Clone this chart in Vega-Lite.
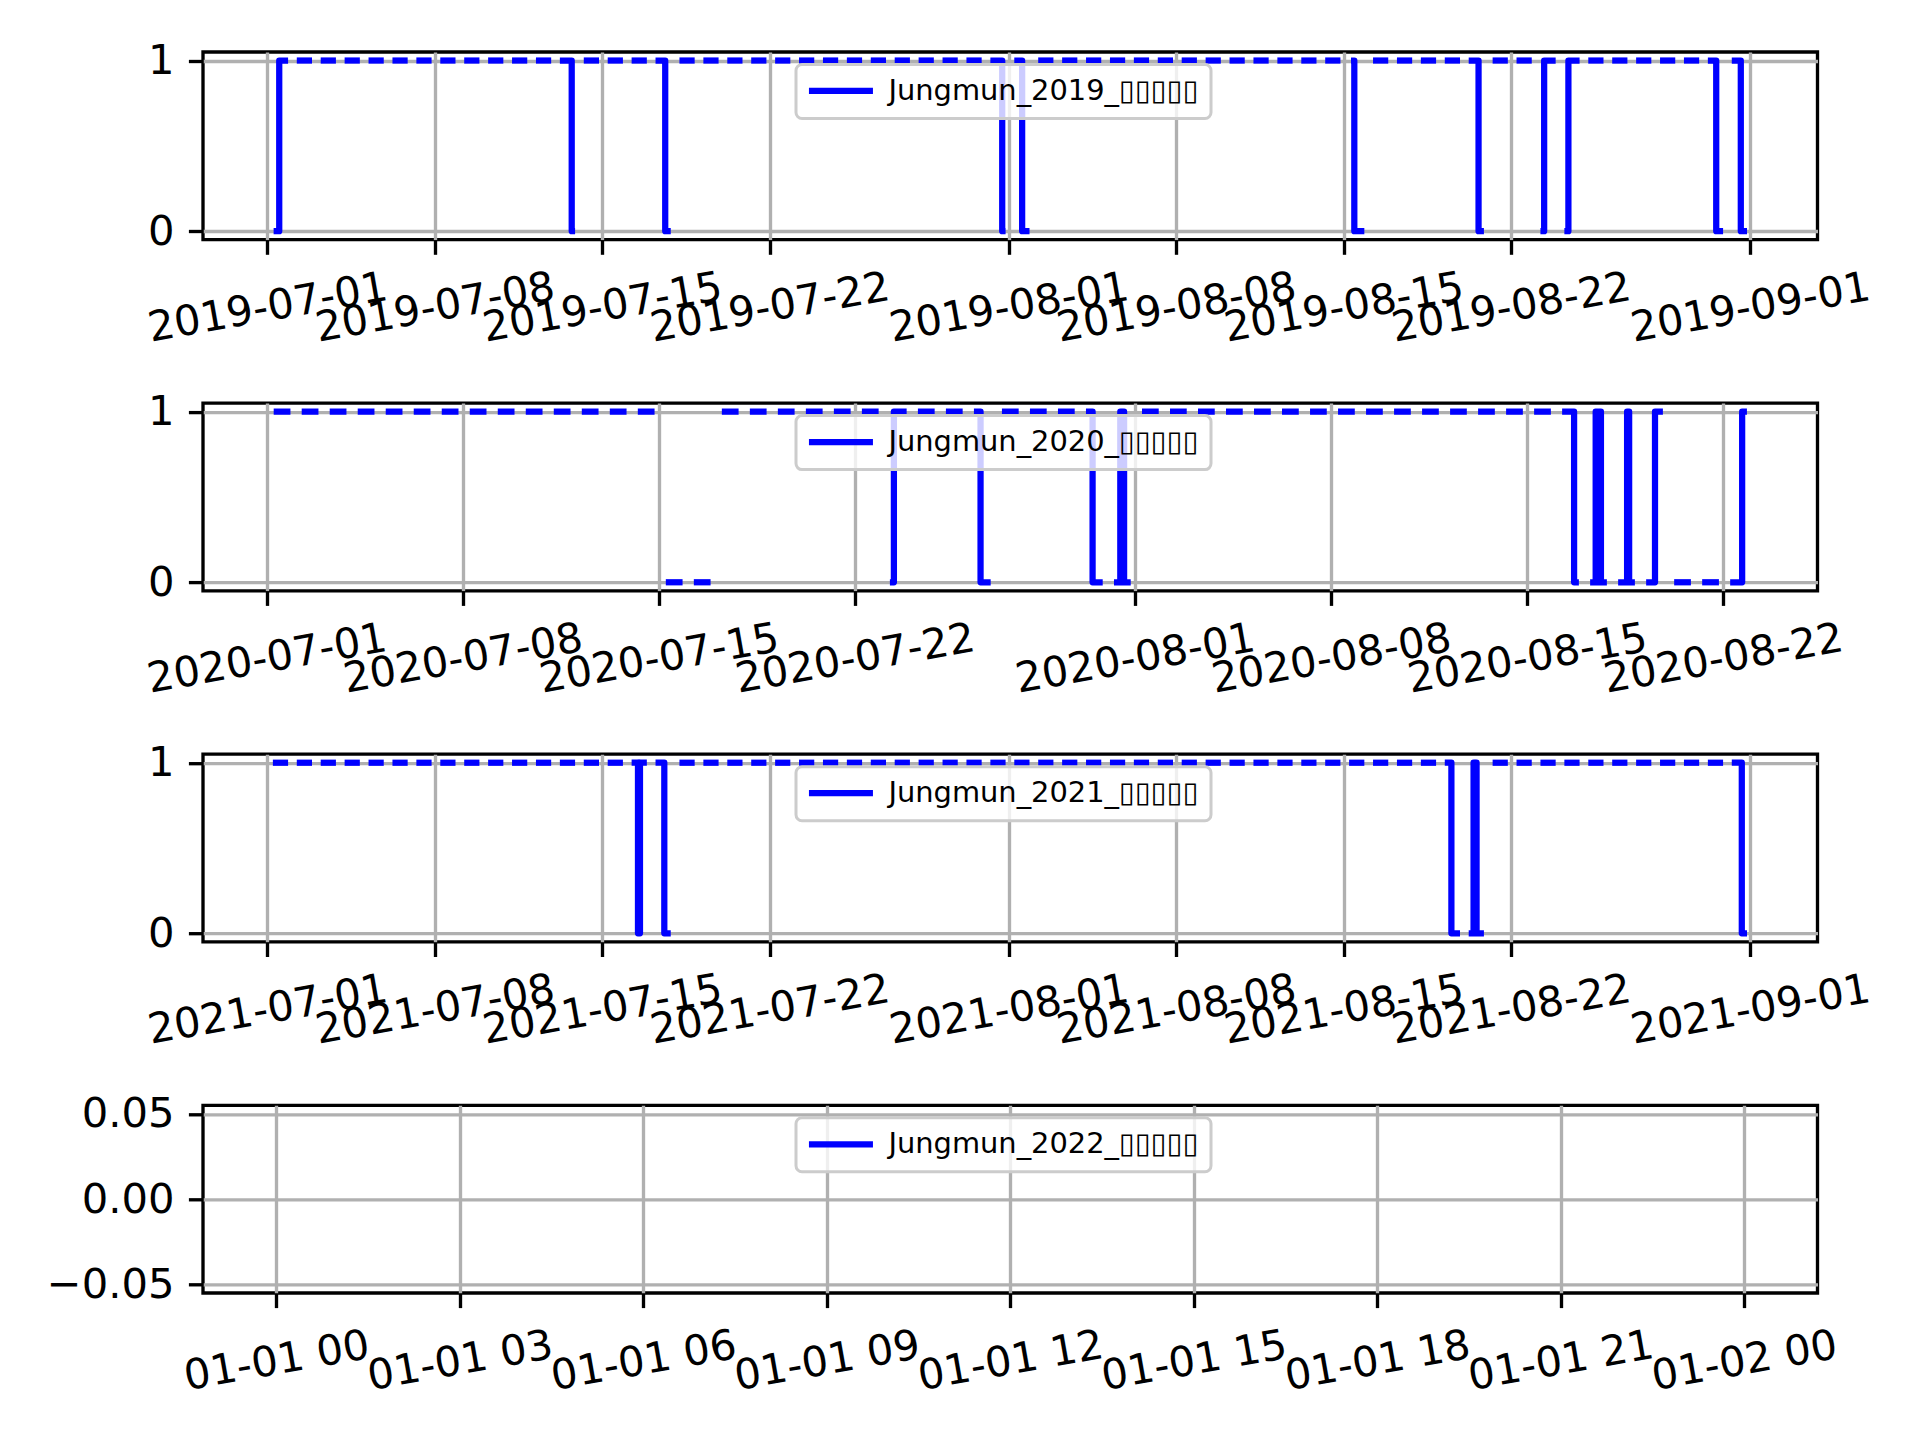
{
  "$schema": "https://vega.github.io/schema/vega-lite/v6.json",
  "background": "white",
  "padding": {"left": 44, "top": 38, "right": 0, "bottom": 0},
  "spacing": 163.1,
  "bounds": "flush",
  "resolve": {"scale": {"x": "independent", "y": "independent", "color": "independent"}, "legend": {"color": "independent"}, "axis": {"x": "independent", "y": "independent"}},
  "config": {
    "font": "DejaVu Sans",
    "view": {"stroke": "black", "strokeWidth": 3.33},
    "axis": {"title": null, "domain": false, "grid": true, "gridColor": "#b0b0b0", "gridWidth": 3.33, "ticks": true, "tickColor": "black", "tickWidth": 3.33, "tickSize": 14.6, "labelFont": "DejaVu Sans", "labelFontSize": 41.7, "labelColor": "black", "labelOverlap": false, "labelBound": false, "labelFlush": false, "labelLimit": 1000},
    "axisX": {"labelAngle": -10, "labelAlign": "center", "labelBaseline": "middle", "labelPadding": 53},
    "axisY": {"labelAlign": "right", "labelBaseline": "middle", "labelPadding": 14.4},
    "legend": {"fillColor": "rgba(255,255,255,0.8)", "strokeColor": "#cccccc", "strokeWidth": 3, "cornerRadius": 6, "padding": 12, "symbolType": "M-4,0H4", "symbolSize": 256, "symbolStrokeWidth": 6.25, "symbolOffset": 18.5, "labelOffset": 33, "labelFont": "DejaVu Sans", "labelFontSize": 28.9, "labelColor": "black", "labelLimit": 1000}
  },
  "vconcat": [
    {
      "width": 1614.5, "height": 187.7,
      "data": {"values": [
        {"t":"2019-07-01T09:30Z","v":0,"d":"0701"},{"t":"2019-07-01T12:00Z","v":1,"d":"0701"},{"t":"2019-07-01T17:45Z","v":1,"d":"0701"},
        {"t":"2019-07-02T08:45Z","v":1,"d":"0702"},{"t":"2019-07-02T17:45Z","v":1,"d":"0702"},
        {"t":"2019-07-03T08:45Z","v":1,"d":"0703"},{"t":"2019-07-03T17:45Z","v":1,"d":"0703"},
        {"t":"2019-07-04T08:45Z","v":1,"d":"0704"},{"t":"2019-07-04T17:45Z","v":1,"d":"0704"},
        {"t":"2019-07-05T08:45Z","v":1,"d":"0705"},{"t":"2019-07-05T17:45Z","v":1,"d":"0705"},
        {"t":"2019-07-06T08:45Z","v":1,"d":"0706"},{"t":"2019-07-06T17:45Z","v":1,"d":"0706"},
        {"t":"2019-07-07T08:45Z","v":1,"d":"0707"},{"t":"2019-07-07T17:45Z","v":1,"d":"0707"},
        {"t":"2019-07-08T08:45Z","v":1,"d":"0708"},{"t":"2019-07-08T17:45Z","v":1,"d":"0708"},
        {"t":"2019-07-09T08:45Z","v":1,"d":"0709"},{"t":"2019-07-09T17:45Z","v":1,"d":"0709"},
        {"t":"2019-07-10T08:45Z","v":1,"d":"0710"},{"t":"2019-07-10T17:45Z","v":1,"d":"0710"},
        {"t":"2019-07-11T08:45Z","v":1,"d":"0711"},{"t":"2019-07-11T17:45Z","v":1,"d":"0711"},
        {"t":"2019-07-12T08:45Z","v":1,"d":"0712"},{"t":"2019-07-12T17:45Z","v":1,"d":"0712"},
        {"t":"2019-07-13T08:45Z","v":1,"d":"0713"},{"t":"2019-07-13T17:30Z","v":0,"d":"0713"},{"t":"2019-07-13T17:45Z","v":0,"d":"0713"},
        {"t":"2019-07-14T08:45Z","v":1,"d":"0714"},{"t":"2019-07-14T17:45Z","v":1,"d":"0714"},
        {"t":"2019-07-15T08:45Z","v":1,"d":"0715"},{"t":"2019-07-15T17:45Z","v":1,"d":"0715"},
        {"t":"2019-07-16T08:45Z","v":1,"d":"0716"},{"t":"2019-07-16T17:45Z","v":1,"d":"0716"},
        {"t":"2019-07-17T08:45Z","v":1,"d":"0717"},{"t":"2019-07-17T15:20Z","v":0,"d":"0717"},{"t":"2019-07-17T17:45Z","v":0,"d":"0717"},
        {"t":"2019-07-18T08:45Z","v":1,"d":"0718"},{"t":"2019-07-18T17:45Z","v":1,"d":"0718"},
        {"t":"2019-07-19T08:45Z","v":1,"d":"0719"},{"t":"2019-07-19T17:45Z","v":1,"d":"0719"},
        {"t":"2019-07-20T08:45Z","v":1,"d":"0720"},{"t":"2019-07-20T17:45Z","v":1,"d":"0720"},
        {"t":"2019-07-21T08:45Z","v":1,"d":"0721"},{"t":"2019-07-21T17:45Z","v":1,"d":"0721"},
        {"t":"2019-07-22T08:45Z","v":1,"d":"0722"},{"t":"2019-07-22T17:45Z","v":1,"d":"0722"},
        {"t":"2019-07-23T08:45Z","v":1,"d":"0723"},{"t":"2019-07-23T17:45Z","v":1,"d":"0723"},
        {"t":"2019-07-24T08:45Z","v":1,"d":"0724"},{"t":"2019-07-24T17:45Z","v":1,"d":"0724"},
        {"t":"2019-07-25T08:45Z","v":1,"d":"0725"},{"t":"2019-07-25T17:45Z","v":1,"d":"0725"},
        {"t":"2019-07-26T08:45Z","v":1,"d":"0726"},{"t":"2019-07-26T17:45Z","v":1,"d":"0726"},
        {"t":"2019-07-27T08:45Z","v":1,"d":"0727"},{"t":"2019-07-27T17:45Z","v":1,"d":"0727"},
        {"t":"2019-07-28T08:45Z","v":1,"d":"0728"},{"t":"2019-07-28T17:45Z","v":1,"d":"0728"},
        {"t":"2019-07-29T08:45Z","v":1,"d":"0729"},{"t":"2019-07-29T17:45Z","v":1,"d":"0729"},
        {"t":"2019-07-30T08:45Z","v":1,"d":"0730"},{"t":"2019-07-30T17:45Z","v":1,"d":"0730"},
        {"t":"2019-07-31T08:45Z","v":1,"d":"0731"},{"t":"2019-07-31T17:30Z","v":0,"d":"0731"},{"t":"2019-07-31T17:45Z","v":0,"d":"0731"},
        {"t":"2019-08-01T08:45Z","v":1,"d":"0801"},{"t":"2019-08-01T13:30Z","v":0,"d":"0801"},{"t":"2019-08-01T17:45Z","v":0,"d":"0801"},
        {"t":"2019-08-02T08:45Z","v":1,"d":"0802"},{"t":"2019-08-02T17:45Z","v":1,"d":"0802"},
        {"t":"2019-08-03T08:45Z","v":1,"d":"0803"},{"t":"2019-08-03T17:45Z","v":1,"d":"0803"},
        {"t":"2019-08-04T08:45Z","v":1,"d":"0804"},{"t":"2019-08-04T17:45Z","v":1,"d":"0804"},
        {"t":"2019-08-05T08:45Z","v":1,"d":"0805"},{"t":"2019-08-05T17:45Z","v":1,"d":"0805"},
        {"t":"2019-08-06T08:45Z","v":1,"d":"0806"},{"t":"2019-08-06T17:45Z","v":1,"d":"0806"},
        {"t":"2019-08-07T08:45Z","v":1,"d":"0807"},{"t":"2019-08-07T17:45Z","v":1,"d":"0807"},
        {"t":"2019-08-08T08:45Z","v":1,"d":"0808"},{"t":"2019-08-08T17:45Z","v":1,"d":"0808"},
        {"t":"2019-08-09T08:45Z","v":1,"d":"0809"},{"t":"2019-08-09T17:45Z","v":1,"d":"0809"},
        {"t":"2019-08-10T08:45Z","v":1,"d":"0810"},{"t":"2019-08-10T17:45Z","v":1,"d":"0810"},
        {"t":"2019-08-11T08:45Z","v":1,"d":"0811"},{"t":"2019-08-11T17:45Z","v":1,"d":"0811"},
        {"t":"2019-08-12T08:45Z","v":1,"d":"0812"},{"t":"2019-08-12T17:45Z","v":1,"d":"0812"},
        {"t":"2019-08-13T08:45Z","v":1,"d":"0813"},{"t":"2019-08-13T17:45Z","v":1,"d":"0813"},
        {"t":"2019-08-14T08:45Z","v":1,"d":"0814"},{"t":"2019-08-14T17:45Z","v":1,"d":"0814"},
        {"t":"2019-08-15T10:40Z","v":1,"d":"0815"},{"t":"2019-08-15T10:50Z","v":0,"d":"0815"},{"t":"2019-08-15T17:45Z","v":0,"d":"0815"},
        {"t":"2019-08-16T08:45Z","v":1,"d":"0816"},{"t":"2019-08-16T17:45Z","v":1,"d":"0816"},
        {"t":"2019-08-17T08:45Z","v":1,"d":"0817"},{"t":"2019-08-17T17:45Z","v":1,"d":"0817"},
        {"t":"2019-08-18T08:45Z","v":1,"d":"0818"},{"t":"2019-08-18T17:45Z","v":1,"d":"0818"},
        {"t":"2019-08-19T08:45Z","v":1,"d":"0819"},{"t":"2019-08-19T17:45Z","v":1,"d":"0819"},
        {"t":"2019-08-20T08:45Z","v":1,"d":"0820"},{"t":"2019-08-20T15:30Z","v":0,"d":"0820"},{"t":"2019-08-20T17:45Z","v":0,"d":"0820"},
        {"t":"2019-08-21T08:45Z","v":1,"d":"0821"},{"t":"2019-08-21T17:45Z","v":1,"d":"0821"},
        {"t":"2019-08-22T08:45Z","v":1,"d":"0822"},{"t":"2019-08-22T17:45Z","v":1,"d":"0822"},
        {"t":"2019-08-23T08:45Z","v":0,"d":"0823"},{"t":"2019-08-23T09:20Z","v":1,"d":"0823"},{"t":"2019-08-23T17:45Z","v":1,"d":"0823"},
        {"t":"2019-08-24T08:45Z","v":0,"d":"0824"},{"t":"2019-08-24T09:40Z","v":1,"d":"0824"},{"t":"2019-08-24T17:45Z","v":1,"d":"0824"},
        {"t":"2019-08-25T08:45Z","v":1,"d":"0825"},{"t":"2019-08-25T17:45Z","v":1,"d":"0825"},
        {"t":"2019-08-26T08:45Z","v":1,"d":"0826"},{"t":"2019-08-26T17:45Z","v":1,"d":"0826"},
        {"t":"2019-08-27T08:45Z","v":1,"d":"0827"},{"t":"2019-08-27T17:45Z","v":1,"d":"0827"},
        {"t":"2019-08-28T08:45Z","v":1,"d":"0828"},{"t":"2019-08-28T17:45Z","v":1,"d":"0828"},
        {"t":"2019-08-29T08:45Z","v":1,"d":"0829"},{"t":"2019-08-29T17:45Z","v":1,"d":"0829"},
        {"t":"2019-08-30T08:45Z","v":1,"d":"0830"},{"t":"2019-08-30T14:00Z","v":0,"d":"0830"},{"t":"2019-08-30T17:45Z","v":0,"d":"0830"},
        {"t":"2019-08-31T08:45Z","v":1,"d":"0831"},{"t":"2019-08-31T14:40Z","v":0,"d":"0831"},{"t":"2019-08-31T17:45Z","v":0,"d":"0831"}
      ]},
      "mark": {"type": "line", "interpolate": "step-after", "strokeWidth": 6.25, "strokeCap": "square", "strokeJoin": "round"},
      "encoding": {
        "x": {"field": "t", "type": "temporal",
          "scale": {"type": "utc", "nice": false, "domain": [{"year": 2019, "month": 6, "date": 28, "hours": 7, "minutes": 30, "utc": true}, {"year": 2019, "month": 9, "date": 3, "hours": 19, "minutes": 38, "utc": true}]},
          "axis": {"labelExpr": "utcFormat(datum.value, '%Y-%m-%d')", "values": [
            {"year": 2019, "month": 7, "date": 1, "utc": true}, {"year": 2019, "month": 7, "date": 8, "utc": true}, {"year": 2019, "month": 7, "date": 15, "utc": true}, {"year": 2019, "month": 7, "date": 22, "utc": true},
            {"year": 2019, "month": 8, "date": 1, "utc": true}, {"year": 2019, "month": 8, "date": 8, "utc": true}, {"year": 2019, "month": 8, "date": 15, "utc": true}, {"year": 2019, "month": 8, "date": 22, "utc": true},
            {"year": 2019, "month": 9, "date": 1, "utc": true}]}},
        "y": {"field": "v", "type": "quantitative", "scale": {"domain": [-0.05, 1.05], "nice": false, "zero": false}, "axis": {"values": [0, 1], "format": "d"}},
        "detail": {"field": "d"},
        "color": {"datum": "Jungmun_2019_▯▯▯▯▯", "scale": {"range": ["#0000ff"]}, "legend": {"orient": "none", "legendX": 593, "legendY": 12.5, "title": null, "zindex": 1}}
      }
    },
    {
      "width": 1614.5, "height": 187.7,
      "data": {"values": [
        {"t":"2020-07-01T08:45Z","v":1,"d":"0701"},{"t":"2020-07-01T17:45Z","v":1,"d":"0701"},
        {"t":"2020-07-02T08:45Z","v":1,"d":"0702"},{"t":"2020-07-02T17:45Z","v":1,"d":"0702"},
        {"t":"2020-07-03T08:45Z","v":1,"d":"0703"},{"t":"2020-07-03T17:45Z","v":1,"d":"0703"},
        {"t":"2020-07-04T08:45Z","v":1,"d":"0704"},{"t":"2020-07-04T17:45Z","v":1,"d":"0704"},
        {"t":"2020-07-05T08:45Z","v":1,"d":"0705"},{"t":"2020-07-05T17:45Z","v":1,"d":"0705"},
        {"t":"2020-07-06T08:45Z","v":1,"d":"0706"},{"t":"2020-07-06T17:45Z","v":1,"d":"0706"},
        {"t":"2020-07-07T08:45Z","v":1,"d":"0707"},{"t":"2020-07-07T17:45Z","v":1,"d":"0707"},
        {"t":"2020-07-08T08:45Z","v":1,"d":"0708"},{"t":"2020-07-08T17:45Z","v":1,"d":"0708"},
        {"t":"2020-07-09T08:45Z","v":1,"d":"0709"},{"t":"2020-07-09T17:45Z","v":1,"d":"0709"},
        {"t":"2020-07-10T08:45Z","v":1,"d":"0710"},{"t":"2020-07-10T17:45Z","v":1,"d":"0710"},
        {"t":"2020-07-11T08:45Z","v":1,"d":"0711"},{"t":"2020-07-11T17:45Z","v":1,"d":"0711"},
        {"t":"2020-07-12T08:45Z","v":1,"d":"0712"},{"t":"2020-07-12T17:45Z","v":1,"d":"0712"},
        {"t":"2020-07-13T08:45Z","v":1,"d":"0713"},{"t":"2020-07-13T17:45Z","v":1,"d":"0713"},
        {"t":"2020-07-14T08:45Z","v":1,"d":"0714"},{"t":"2020-07-14T17:45Z","v":1,"d":"0714"},
        {"t":"2020-07-15T08:45Z","v":0,"d":"0715"},{"t":"2020-07-15T17:45Z","v":0,"d":"0715"},
        {"t":"2020-07-16T08:45Z","v":0,"d":"0716"},{"t":"2020-07-16T17:45Z","v":0,"d":"0716"},
        {"t":"2020-07-17T08:45Z","v":1,"d":"0717"},{"t":"2020-07-17T17:45Z","v":1,"d":"0717"},
        {"t":"2020-07-18T08:45Z","v":1,"d":"0718"},{"t":"2020-07-18T17:45Z","v":1,"d":"0718"},
        {"t":"2020-07-19T08:45Z","v":1,"d":"0719"},{"t":"2020-07-19T17:45Z","v":1,"d":"0719"},
        {"t":"2020-07-20T08:45Z","v":1,"d":"0720"},{"t":"2020-07-20T17:45Z","v":1,"d":"0720"},
        {"t":"2020-07-21T08:45Z","v":1,"d":"0721"},{"t":"2020-07-21T17:45Z","v":1,"d":"0721"},
        {"t":"2020-07-22T08:45Z","v":1,"d":"0722"},{"t":"2020-07-22T17:45Z","v":1,"d":"0722"},
        {"t":"2020-07-23T08:45Z","v":0,"d":"0723"},{"t":"2020-07-23T09:30Z","v":1,"d":"0723"},{"t":"2020-07-23T17:45Z","v":1,"d":"0723"},
        {"t":"2020-07-24T08:45Z","v":1,"d":"0724"},{"t":"2020-07-24T17:45Z","v":1,"d":"0724"},
        {"t":"2020-07-25T08:45Z","v":1,"d":"0725"},{"t":"2020-07-25T17:45Z","v":1,"d":"0725"},
        {"t":"2020-07-26T08:45Z","v":1,"d":"0726"},{"t":"2020-07-26T11:45Z","v":0,"d":"0726"},{"t":"2020-07-26T17:45Z","v":0,"d":"0726"},
        {"t":"2020-07-27T08:45Z","v":1,"d":"0727"},{"t":"2020-07-27T17:45Z","v":1,"d":"0727"},
        {"t":"2020-07-28T08:45Z","v":1,"d":"0728"},{"t":"2020-07-28T17:45Z","v":1,"d":"0728"},
        {"t":"2020-07-29T08:45Z","v":1,"d":"0729"},{"t":"2020-07-29T17:45Z","v":1,"d":"0729"},
        {"t":"2020-07-30T08:45Z","v":1,"d":"0730"},{"t":"2020-07-30T11:45Z","v":0,"d":"0730"},{"t":"2020-07-30T17:45Z","v":0,"d":"0730"},
        {"t":"2020-07-31T08:45Z","v":0,"d":"0731"},{"t":"2020-07-31T11:30Z","v":1,"d":"0731"},{"t":"2020-07-31T12:30Z","v":0,"d":"0731"},{"t":"2020-07-31T13:30Z","v":1,"d":"0731"},{"t":"2020-07-31T14:45Z","v":0,"d":"0731"},{"t":"2020-07-31T17:45Z","v":0,"d":"0731"},
        {"t":"2020-08-01T08:45Z","v":1,"d":"0801"},{"t":"2020-08-01T17:45Z","v":1,"d":"0801"},
        {"t":"2020-08-02T08:45Z","v":1,"d":"0802"},{"t":"2020-08-02T17:45Z","v":1,"d":"0802"},
        {"t":"2020-08-03T08:45Z","v":1,"d":"0803"},{"t":"2020-08-03T17:45Z","v":1,"d":"0803"},
        {"t":"2020-08-04T08:45Z","v":1,"d":"0804"},{"t":"2020-08-04T17:45Z","v":1,"d":"0804"},
        {"t":"2020-08-05T08:45Z","v":1,"d":"0805"},{"t":"2020-08-05T17:45Z","v":1,"d":"0805"},
        {"t":"2020-08-06T08:45Z","v":1,"d":"0806"},{"t":"2020-08-06T17:45Z","v":1,"d":"0806"},
        {"t":"2020-08-07T08:45Z","v":1,"d":"0807"},{"t":"2020-08-07T17:45Z","v":1,"d":"0807"},
        {"t":"2020-08-08T08:45Z","v":1,"d":"0808"},{"t":"2020-08-08T17:45Z","v":1,"d":"0808"},
        {"t":"2020-08-09T08:45Z","v":1,"d":"0809"},{"t":"2020-08-09T17:45Z","v":1,"d":"0809"},
        {"t":"2020-08-10T08:45Z","v":1,"d":"0810"},{"t":"2020-08-10T17:45Z","v":1,"d":"0810"},
        {"t":"2020-08-11T08:45Z","v":1,"d":"0811"},{"t":"2020-08-11T17:45Z","v":1,"d":"0811"},
        {"t":"2020-08-12T08:45Z","v":1,"d":"0812"},{"t":"2020-08-12T17:45Z","v":1,"d":"0812"},
        {"t":"2020-08-13T08:45Z","v":1,"d":"0813"},{"t":"2020-08-13T17:45Z","v":1,"d":"0813"},
        {"t":"2020-08-14T08:45Z","v":1,"d":"0814"},{"t":"2020-08-14T17:45Z","v":1,"d":"0814"},
        {"t":"2020-08-15T08:45Z","v":1,"d":"0815"},{"t":"2020-08-15T17:45Z","v":1,"d":"0815"},
        {"t":"2020-08-16T08:45Z","v":1,"d":"0816"},{"t":"2020-08-16T16:20Z","v":0,"d":"0816"},{"t":"2020-08-16T17:45Z","v":0,"d":"0816"},
        {"t":"2020-08-17T08:45Z","v":0,"d":"0817"},{"t":"2020-08-17T10:50Z","v":1,"d":"0817"},{"t":"2020-08-17T12:00Z","v":0,"d":"0817"},{"t":"2020-08-17T13:15Z","v":1,"d":"0817"},{"t":"2020-08-17T15:20Z","v":0,"d":"0817"},{"t":"2020-08-17T17:45Z","v":0,"d":"0817"},
        {"t":"2020-08-18T08:45Z","v":0,"d":"0818"},{"t":"2020-08-18T13:45Z","v":1,"d":"0818"},{"t":"2020-08-18T15:30Z","v":0,"d":"0818"},{"t":"2020-08-18T17:45Z","v":0,"d":"0818"},
        {"t":"2020-08-19T08:45Z","v":0,"d":"0819"},{"t":"2020-08-19T13:40Z","v":1,"d":"0819"},{"t":"2020-08-19T17:45Z","v":1,"d":"0819"},
        {"t":"2020-08-20T08:45Z","v":0,"d":"0820"},{"t":"2020-08-20T17:45Z","v":0,"d":"0820"},
        {"t":"2020-08-21T08:45Z","v":0,"d":"0821"},{"t":"2020-08-21T17:45Z","v":0,"d":"0821"},
        {"t":"2020-08-22T08:45Z","v":0,"d":"0822"},{"t":"2020-08-22T16:20Z","v":1,"d":"0822"},{"t":"2020-08-22T17:45Z","v":1,"d":"0822"}
      ]},
      "mark": {"type": "line", "interpolate": "step-after", "strokeWidth": 6.25, "strokeCap": "square", "strokeJoin": "round"},
      "encoding": {
        "x": {"field": "t", "type": "temporal",
          "scale": {"type": "utc", "nice": false, "domain": [{"year": 2020, "month": 6, "date": 28, "hours": 17, "minutes": 30, "utc": true}, {"year": 2020, "month": 8, "date": 25, "hours": 8, "minutes": 54, "utc": true}]},
          "axis": {"labelExpr": "utcFormat(datum.value, '%Y-%m-%d')", "values": [
            {"year": 2020, "month": 7, "date": 1, "utc": true}, {"year": 2020, "month": 7, "date": 8, "utc": true}, {"year": 2020, "month": 7, "date": 15, "utc": true}, {"year": 2020, "month": 7, "date": 22, "utc": true},
            {"year": 2020, "month": 8, "date": 1, "utc": true}, {"year": 2020, "month": 8, "date": 8, "utc": true}, {"year": 2020, "month": 8, "date": 15, "utc": true}, {"year": 2020, "month": 8, "date": 22, "utc": true}]}},
        "y": {"field": "v", "type": "quantitative", "scale": {"domain": [-0.05, 1.05], "nice": false, "zero": false}, "axis": {"values": [0, 1], "format": "d"}},
        "detail": {"field": "d"},
        "color": {"datum": "Jungmun_2020_▯▯▯▯▯", "scale": {"range": ["#0000ff"]}, "legend": {"orient": "none", "legendX": 593, "legendY": 12.5, "title": null, "zindex": 1}}
      }
    },
    {
      "width": 1614.5, "height": 187.7,
      "data": {"values": [
        {"t":"2021-07-01T08:45Z","v":1,"d":"0701"},{"t":"2021-07-01T17:45Z","v":1,"d":"0701"},
        {"t":"2021-07-02T08:45Z","v":1,"d":"0702"},{"t":"2021-07-02T17:45Z","v":1,"d":"0702"},
        {"t":"2021-07-03T08:45Z","v":1,"d":"0703"},{"t":"2021-07-03T17:45Z","v":1,"d":"0703"},
        {"t":"2021-07-04T08:45Z","v":1,"d":"0704"},{"t":"2021-07-04T17:45Z","v":1,"d":"0704"},
        {"t":"2021-07-05T08:45Z","v":1,"d":"0705"},{"t":"2021-07-05T17:45Z","v":1,"d":"0705"},
        {"t":"2021-07-06T08:45Z","v":1,"d":"0706"},{"t":"2021-07-06T17:45Z","v":1,"d":"0706"},
        {"t":"2021-07-07T08:45Z","v":1,"d":"0707"},{"t":"2021-07-07T17:45Z","v":1,"d":"0707"},
        {"t":"2021-07-08T08:45Z","v":1,"d":"0708"},{"t":"2021-07-08T17:45Z","v":1,"d":"0708"},
        {"t":"2021-07-09T08:45Z","v":1,"d":"0709"},{"t":"2021-07-09T17:45Z","v":1,"d":"0709"},
        {"t":"2021-07-10T08:45Z","v":1,"d":"0710"},{"t":"2021-07-10T17:45Z","v":1,"d":"0710"},
        {"t":"2021-07-11T08:45Z","v":1,"d":"0711"},{"t":"2021-07-11T17:45Z","v":1,"d":"0711"},
        {"t":"2021-07-12T08:45Z","v":1,"d":"0712"},{"t":"2021-07-12T17:45Z","v":1,"d":"0712"},
        {"t":"2021-07-13T08:45Z","v":1,"d":"0713"},{"t":"2021-07-13T17:45Z","v":1,"d":"0713"},
        {"t":"2021-07-14T08:45Z","v":1,"d":"0714"},{"t":"2021-07-14T17:45Z","v":1,"d":"0714"},
        {"t":"2021-07-15T08:45Z","v":1,"d":"0715"},{"t":"2021-07-15T17:45Z","v":1,"d":"0715"},
        {"t":"2021-07-16T08:45Z","v":1,"d":"0716"},{"t":"2021-07-16T12:00Z","v":0,"d":"0716"},{"t":"2021-07-16T12:40Z","v":1,"d":"0716"},{"t":"2021-07-16T13:20Z","v":0,"d":"0716"},{"t":"2021-07-16T14:00Z","v":1,"d":"0716"},{"t":"2021-07-16T17:45Z","v":1,"d":"0716"},
        {"t":"2021-07-17T08:45Z","v":1,"d":"0717"},{"t":"2021-07-17T14:25Z","v":0,"d":"0717"},{"t":"2021-07-17T17:45Z","v":0,"d":"0717"},
        {"t":"2021-07-18T08:45Z","v":1,"d":"0718"},{"t":"2021-07-18T17:45Z","v":1,"d":"0718"},
        {"t":"2021-07-19T08:45Z","v":1,"d":"0719"},{"t":"2021-07-19T17:45Z","v":1,"d":"0719"},
        {"t":"2021-07-20T08:45Z","v":1,"d":"0720"},{"t":"2021-07-20T17:45Z","v":1,"d":"0720"},
        {"t":"2021-07-21T08:45Z","v":1,"d":"0721"},{"t":"2021-07-21T17:45Z","v":1,"d":"0721"},
        {"t":"2021-07-22T08:45Z","v":1,"d":"0722"},{"t":"2021-07-22T17:45Z","v":1,"d":"0722"},
        {"t":"2021-07-23T08:45Z","v":1,"d":"0723"},{"t":"2021-07-23T17:45Z","v":1,"d":"0723"},
        {"t":"2021-07-24T08:45Z","v":1,"d":"0724"},{"t":"2021-07-24T17:45Z","v":1,"d":"0724"},
        {"t":"2021-07-25T08:45Z","v":1,"d":"0725"},{"t":"2021-07-25T17:45Z","v":1,"d":"0725"},
        {"t":"2021-07-26T08:45Z","v":1,"d":"0726"},{"t":"2021-07-26T17:45Z","v":1,"d":"0726"},
        {"t":"2021-07-27T08:45Z","v":1,"d":"0727"},{"t":"2021-07-27T17:45Z","v":1,"d":"0727"},
        {"t":"2021-07-28T08:45Z","v":1,"d":"0728"},{"t":"2021-07-28T17:45Z","v":1,"d":"0728"},
        {"t":"2021-07-29T08:45Z","v":1,"d":"0729"},{"t":"2021-07-29T17:45Z","v":1,"d":"0729"},
        {"t":"2021-07-30T08:45Z","v":1,"d":"0730"},{"t":"2021-07-30T17:45Z","v":1,"d":"0730"},
        {"t":"2021-07-31T08:45Z","v":1,"d":"0731"},{"t":"2021-07-31T17:45Z","v":1,"d":"0731"},
        {"t":"2021-08-01T08:45Z","v":1,"d":"0801"},{"t":"2021-08-01T17:45Z","v":1,"d":"0801"},
        {"t":"2021-08-02T08:45Z","v":1,"d":"0802"},{"t":"2021-08-02T17:45Z","v":1,"d":"0802"},
        {"t":"2021-08-03T08:45Z","v":1,"d":"0803"},{"t":"2021-08-03T17:45Z","v":1,"d":"0803"},
        {"t":"2021-08-04T08:45Z","v":1,"d":"0804"},{"t":"2021-08-04T17:45Z","v":1,"d":"0804"},
        {"t":"2021-08-05T08:45Z","v":1,"d":"0805"},{"t":"2021-08-05T17:45Z","v":1,"d":"0805"},
        {"t":"2021-08-06T08:45Z","v":1,"d":"0806"},{"t":"2021-08-06T17:45Z","v":1,"d":"0806"},
        {"t":"2021-08-07T08:45Z","v":1,"d":"0807"},{"t":"2021-08-07T17:45Z","v":1,"d":"0807"},
        {"t":"2021-08-08T08:45Z","v":1,"d":"0808"},{"t":"2021-08-08T17:45Z","v":1,"d":"0808"},
        {"t":"2021-08-09T08:45Z","v":1,"d":"0809"},{"t":"2021-08-09T17:45Z","v":1,"d":"0809"},
        {"t":"2021-08-10T08:45Z","v":1,"d":"0810"},{"t":"2021-08-10T17:45Z","v":1,"d":"0810"},
        {"t":"2021-08-11T08:45Z","v":1,"d":"0811"},{"t":"2021-08-11T17:45Z","v":1,"d":"0811"},
        {"t":"2021-08-12T08:45Z","v":1,"d":"0812"},{"t":"2021-08-12T17:45Z","v":1,"d":"0812"},
        {"t":"2021-08-13T08:45Z","v":1,"d":"0813"},{"t":"2021-08-13T17:45Z","v":1,"d":"0813"},
        {"t":"2021-08-14T08:45Z","v":1,"d":"0814"},{"t":"2021-08-14T17:45Z","v":1,"d":"0814"},
        {"t":"2021-08-15T08:45Z","v":1,"d":"0815"},{"t":"2021-08-15T17:45Z","v":1,"d":"0815"},
        {"t":"2021-08-16T08:45Z","v":1,"d":"0816"},{"t":"2021-08-16T17:45Z","v":1,"d":"0816"},
        {"t":"2021-08-17T08:45Z","v":1,"d":"0817"},{"t":"2021-08-17T17:45Z","v":1,"d":"0817"},
        {"t":"2021-08-18T08:45Z","v":1,"d":"0818"},{"t":"2021-08-18T17:45Z","v":1,"d":"0818"},
        {"t":"2021-08-19T08:45Z","v":1,"d":"0819"},{"t":"2021-08-19T12:15Z","v":0,"d":"0819"},{"t":"2021-08-19T17:45Z","v":0,"d":"0819"},
        {"t":"2021-08-20T08:45Z","v":0,"d":"0820"},{"t":"2021-08-20T10:30Z","v":1,"d":"0820"},{"t":"2021-08-20T11:30Z","v":0,"d":"0820"},{"t":"2021-08-20T12:30Z","v":1,"d":"0820"},{"t":"2021-08-20T13:30Z","v":0,"d":"0820"},{"t":"2021-08-20T17:45Z","v":0,"d":"0820"},
        {"t":"2021-08-21T08:45Z","v":1,"d":"0821"},{"t":"2021-08-21T17:45Z","v":1,"d":"0821"},
        {"t":"2021-08-22T08:45Z","v":1,"d":"0822"},{"t":"2021-08-22T17:45Z","v":1,"d":"0822"},
        {"t":"2021-08-23T08:45Z","v":1,"d":"0823"},{"t":"2021-08-23T17:45Z","v":1,"d":"0823"},
        {"t":"2021-08-24T08:45Z","v":1,"d":"0824"},{"t":"2021-08-24T17:45Z","v":1,"d":"0824"},
        {"t":"2021-08-25T08:45Z","v":1,"d":"0825"},{"t":"2021-08-25T17:45Z","v":1,"d":"0825"},
        {"t":"2021-08-26T08:45Z","v":1,"d":"0826"},{"t":"2021-08-26T17:45Z","v":1,"d":"0826"},
        {"t":"2021-08-27T08:45Z","v":1,"d":"0827"},{"t":"2021-08-27T17:45Z","v":1,"d":"0827"},
        {"t":"2021-08-28T08:45Z","v":1,"d":"0828"},{"t":"2021-08-28T17:45Z","v":1,"d":"0828"},
        {"t":"2021-08-29T08:45Z","v":1,"d":"0829"},{"t":"2021-08-29T17:45Z","v":1,"d":"0829"},
        {"t":"2021-08-30T08:45Z","v":1,"d":"0830"},{"t":"2021-08-30T17:45Z","v":1,"d":"0830"},
        {"t":"2021-08-31T08:45Z","v":1,"d":"0831"},{"t":"2021-08-31T15:40Z","v":0,"d":"0831"},{"t":"2021-08-31T17:45Z","v":0,"d":"0831"}
      ]},
      "mark": {"type": "line", "interpolate": "step-after", "strokeWidth": 6.25, "strokeCap": "square", "strokeJoin": "round"},
      "encoding": {
        "x": {"field": "t", "type": "temporal",
          "scale": {"type": "utc", "nice": false, "domain": [{"year": 2021, "month": 6, "date": 28, "hours": 7, "minutes": 30, "utc": true}, {"year": 2021, "month": 9, "date": 3, "hours": 19, "minutes": 38, "utc": true}]},
          "axis": {"labelExpr": "utcFormat(datum.value, '%Y-%m-%d')", "values": [
            {"year": 2021, "month": 7, "date": 1, "utc": true}, {"year": 2021, "month": 7, "date": 8, "utc": true}, {"year": 2021, "month": 7, "date": 15, "utc": true}, {"year": 2021, "month": 7, "date": 22, "utc": true},
            {"year": 2021, "month": 8, "date": 1, "utc": true}, {"year": 2021, "month": 8, "date": 8, "utc": true}, {"year": 2021, "month": 8, "date": 15, "utc": true}, {"year": 2021, "month": 8, "date": 22, "utc": true},
            {"year": 2021, "month": 9, "date": 1, "utc": true}]}},
        "y": {"field": "v", "type": "quantitative", "scale": {"domain": [-0.05, 1.05], "nice": false, "zero": false}, "axis": {"values": [0, 1], "format": "d"}},
        "detail": {"field": "d"},
        "color": {"datum": "Jungmun_2021_▯▯▯▯▯", "scale": {"range": ["#0000ff"]}, "legend": {"orient": "none", "legendX": 593, "legendY": 12.5, "title": null, "zindex": 1}}
      }
    },
    {
      "width": 1614.5, "height": 187.7,
      "data": {"values": []},
      "mark": {"type": "line", "interpolate": "step-after", "strokeWidth": 6.25, "strokeCap": "square", "strokeJoin": "round"},
      "encoding": {
        "x": {"field": "t", "type": "temporal",
          "scale": {"type": "utc", "nice": false, "domain": [{"year": 1969, "month": 12, "date": 31, "hours": 22, "minutes": 48, "utc": true}, {"year": 1970, "month": 1, "date": 2, "hours": 1, "minutes": 12, "utc": true}]},
          "axis": {"labelExpr": "utcFormat(datum.value, '%m-%d %H')", "values": [
            {"year": 1970, "month": 1, "date": 1, "hours": 0, "utc": true}, {"year": 1970, "month": 1, "date": 1, "hours": 3, "utc": true}, {"year": 1970, "month": 1, "date": 1, "hours": 6, "utc": true},
            {"year": 1970, "month": 1, "date": 1, "hours": 9, "utc": true}, {"year": 1970, "month": 1, "date": 1, "hours": 12, "utc": true}, {"year": 1970, "month": 1, "date": 1, "hours": 15, "utc": true},
            {"year": 1970, "month": 1, "date": 1, "hours": 18, "utc": true}, {"year": 1970, "month": 1, "date": 1, "hours": 21, "utc": true}, {"year": 1970, "month": 1, "date": 2, "hours": 0, "utc": true}]}},
        "y": {"field": "v", "type": "quantitative", "scale": {"domain": [-0.055, 0.055], "nice": false, "zero": false}, "axis": {"values": [-0.05, 0, 0.05], "format": ".2f"}},
        "detail": {"field": "d"},
        "color": {"datum": "Jungmun_2022_▯▯▯▯▯", "scale": {"range": ["#0000ff"]}, "legend": {"orient": "none", "legendX": 593, "legendY": 12.5, "title": null, "zindex": 1}}
      }
    }
  ]
}
